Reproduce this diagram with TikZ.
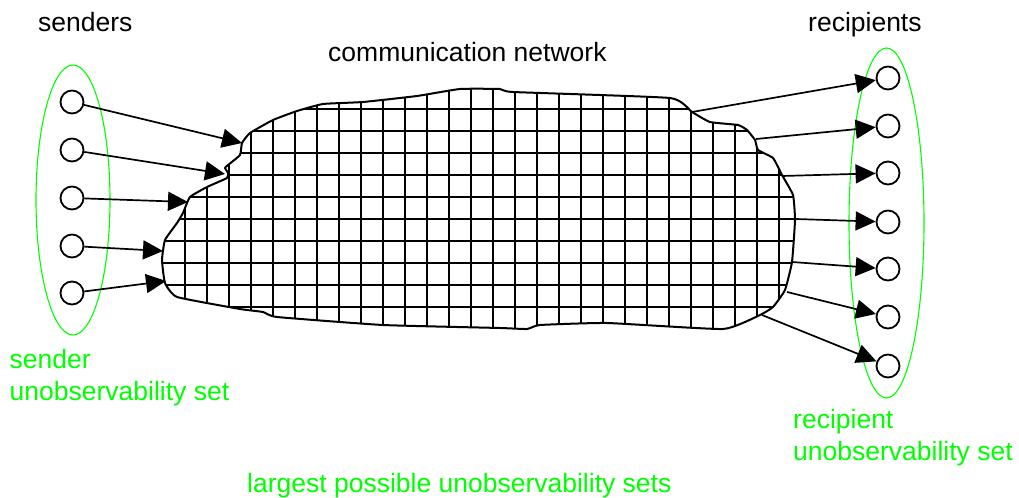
\documentclass[tikz,border=0pt]{standalone}
\usepackage{fontspec}
\setmainfont{Liberation Sans}
\usetikzlibrary{arrows.meta,shapes.geometric}
\definecolor{setgreen}{RGB}{0,255,0}
\tikzset{
  lbl/.style={anchor=base west,inner sep=0pt,font=\fontsize{26.5bp}{31bp}\selectfont},
  greenlbl/.style={lbl,text=setgreen,align=left},
  party/.style={circle,draw=black,line width=1.8bp,minimum size=23bp,inner sep=0pt},
  setring/.style={ellipse,draw=setgreen,line width=1.1bp,inner sep=0pt},
  flow/.style={line width=1.7bp,-{Triangle[length=20bp,width=19bp]}},
  gridline/.style={line width=2bp},
  outline/.style={line width=2bp,line join=round}
}
\newcommand{\cloudpath}{plot[smooth cycle,tension=0.25] coordinates {
(242,143) (250,133) (273,120) (297,111) (323,104) (363,102) (417,96) (460,89)
(500,89) (513,92) (670,98) (692,112) (710,122) (738,125) (747,130) (755,140)
(758,150) (773,158) (782,175) (793,195) (795,220) (792,262) (785,290) (773,307)
(760,315) (723,329) (607,323) (540,325) (527,329) (500,328) (383,325) (277,317)
(263,312) (240,309) (177,297) (165,283) (162,260) (165,240) (177,223) (183,213)
(190,197) (207,187) (227,178) (228,173) (225,168) (228,165) (240,155)}}
\begin{document}
\begin{tikzpicture}[x=1bp,y=-1bp]
\useasboundingbox (0,0) rectangle (1019,498);
% cloud
\begin{scope}
\clip \cloudpath;
\foreach \i in {0,...,27} {\draw[gridline] ({185+22*\i},80) -- ({185+22*\i},340);}
\foreach \j in {0,...,9} {\draw[gridline] (150,{109+22*\j}) -- (800,{109+22*\j});}
\end{scope}
\draw[outline] \cloudpath;
% labels
\node[lbl] (lsend) at (38,32) {senders};
\node[lbl] (lnet) at (328,62) {communication network};
\node[lbl] (lrec) at (808,32) {recipients};
\node[greenlbl] (lsset) at (9.5,369) {sender};
\node[greenlbl] (lsset2) at (9.5,400) {unobservability set};
\node[greenlbl] (lrset) at (793,428) {recipient};
\node[greenlbl] (lrset2) at (793,460) {unobservability set};
\node[greenlbl] (lall) at (247,492) {largest possible unobservability sets};
% sets
\node[setring,minimum width=74bp,minimum height=270bp] (sset) at (73,200) {};
\node[setring,minimum width=75bp,minimum height=350bp] (rset) at (886.5,223) {};
% senders
\foreach \k/\y in {1/102,2/150,3/198,4/246,5/293} {\node[party] (s\k) at (72,\y) {};}
% recipients
\foreach \k/\y in {1/78,2/126,3/173,4/222,5/269,6/317,7/366} {\node[party] (r\k) at (888,\y) {};}
% entry points on the cloud
\coordinate (t1) at (242,143);
\coordinate (t2) at (225,174);
\coordinate (t3) at (188,202);
\coordinate (t4) at (163,251);
\coordinate (t5) at (166,281);
\foreach \k in {1,...,5} {\draw[flow] (s\k) -- (t\k);}
% exit points on the cloud
\coordinate (u1) at (692,112);
\coordinate (u2) at (756,139);
\coordinate (u3) at (782,176);
\coordinate (u4) at (796,219);
\coordinate (u5) at (792,262);
\coordinate (u6) at (787,292);
\coordinate (u7) at (762,315);
\foreach \k in {1,...,7} {\draw[flow] (u\k) -- (r\k);}
\end{tikzpicture}
\end{document}
